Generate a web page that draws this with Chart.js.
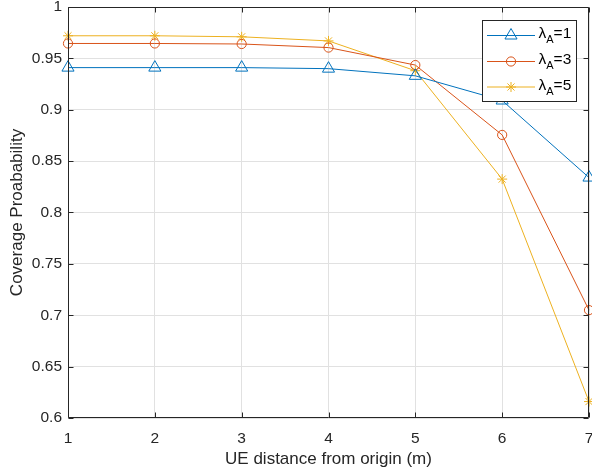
<!DOCTYPE html>
<html>
<head>
<meta charset="utf-8">
<script src="https://cdn.jsdelivr.net/npm/chart.js@4"></script>
<style>html,body{margin:0;padding:0;background:#fff}</style>
</head>
<body>
<canvas id="chart" width="592" height="472"></canvas>
<script>
const distances = [1, 2, 3, 4, 5, 6, 7];
const covLambda1 = [0.941, 0.941, 0.941, 0.940, 0.933, 0.909, 0.834];
const covLambda3 = [0.9645, 0.9645, 0.964, 0.9605, 0.9435, 0.8755, 0.705];
const covLambda5 = [0.972, 0.972, 0.971, 0.967, 0.938, 0.8325, 0.616];
const lambdas = [1, 3, 5];
const xTicks = [1, 2, 3, 4, 5, 6, 7];
const yTicks = [0.6, 0.65, 0.7, 0.75, 0.8, 0.85, 0.9, 0.95, 1];

const axisColor = '#262626';
const gridColor = '#e1e1e1';
const fontFamily = '"Liberation Sans", Arial, Helvetica, sans-serif';
const styles = [
  { color: '#0072BD', pointStyle: 'triangle', radius: 7 },
  { color: '#D95319', pointStyle: 'circle', radius: 4.6 },
  { color: '#EDB120', pointStyle: 'star', radius: 5 }
];
const series = [covLambda1, covLambda3, covLambda5];

const datasets = series.map((vals, i) => ({
  label: 'λA=' + lambdas[i],
  data: vals.map((v, j) => ({ x: distances[j], y: v })),
  borderColor: styles[i].color,
  backgroundColor: styles[i].color,
  borderWidth: 1,
  pointStyle: styles[i].pointStyle,
  pointRadius: styles[i].radius,
  pointHoverRadius: styles[i].radius,
  pointBorderColor: styles[i].color,
  pointBackgroundColor: 'transparent',
  pointBorderWidth: 1,
  tension: 0,
  clip: false
}));

// keep the plot box fixed: tick labels may hang over the edges like in MATLAB
const noPadding = () => ({ left: 0, top: 0, right: 0, bottom: 0 });

function drawMarker(ctx, style, radius, x, y, color) {
  ctx.save();
  ctx.strokeStyle = color;
  ctx.fillStyle = 'transparent';
  ctx.lineWidth = 1;
  if (Chart.helpers && Chart.helpers.drawPoint) {
    Chart.helpers.drawPoint(ctx, { pointStyle: style, radius: radius, borderWidth: 1, rotation: 0 }, x, y);
  }
  ctx.restore();
}

const matlabFrame = {
  id: 'matlabFrame',
  afterDraw(chart) {
    const ctx = chart.ctx;
    const a = chart.chartArea;
    const xs = chart.scales.x, ys = chart.scales.y;
    const L = Math.round(a.left) + 0.5, R = Math.round(a.right) - 0.5;
    const T = Math.round(a.top) + 0.5, B = Math.round(a.bottom) - 0.5;
    ctx.save();
    ctx.strokeStyle = axisColor;
    ctx.lineWidth = 1;
    ctx.beginPath();
    ctx.rect(L, T, R - L, B - T);
    // inward ticks
    xTicks.forEach(v => {
      const px = Math.round(xs.getPixelForValue(v)) + 0.5;
      ctx.moveTo(px, B); ctx.lineTo(px, B - 5);
      ctx.moveTo(px, T); ctx.lineTo(px, T + 5);
    });
    yTicks.forEach(v => {
      const py = Math.round(ys.getPixelForValue(v)) + 0.5;
      ctx.moveTo(L, py); ctx.lineTo(L + 5, py);
      ctx.moveTo(R, py); ctx.lineTo(R - 5, py);
    });
    ctx.stroke();

    // legend
    const bx = 482.5, by = 20.5, bw = 94, bh = 81;
    ctx.fillStyle = '#fff';
    ctx.fillRect(bx, by, bw, bh);
    ctx.strokeStyle = axisColor;
    ctx.strokeRect(bx, by, bw, bh);
    const rows = [35, 61, 86.5];
    lambdas.forEach((lam, i) => {
      const y = rows[i];
      ctx.strokeStyle = styles[i].color;
      ctx.beginPath();
      ctx.moveTo(487, y + 0.5); ctx.lineTo(535, y + 0.5);
      ctx.stroke();
      drawMarker(ctx, styles[i].pointStyle, styles[i].radius, 511, y + 0.5, styles[i].color);
      ctx.fillStyle = '#000';
      ctx.textBaseline = 'middle';
      ctx.textAlign = 'left';
      ctx.font = '15.5px ' + fontFamily;
      let tx = 538.5;
      ctx.fillText('λ', tx, y - 1);
      tx += ctx.measureText('λ').width;
      ctx.font = '11px ' + fontFamily;
      ctx.fillText('A', tx, y + 5);
      tx += ctx.measureText('A').width;
      ctx.font = '15.5px ' + fontFamily;
      ctx.fillText('=' + lam, tx, y - 1);
    });
    ctx.restore();
  }
};

new Chart(document.getElementById('chart').getContext('2d'), {
  type: 'line',
  data: { datasets },
  options: {
    responsive: false,
    animation: false,
    events: [],
    layout: { autoPadding: false, padding: { top: 7, right: 3, left: 0, bottom: 0 } },
    plugins: { legend: { display: false }, tooltip: { enabled: false } },
    scales: {
      x: {
        type: 'linear',
        min: 1,
        max: 7,
        afterBuildTicks: s => { s.ticks = xTicks.map(v => ({ value: v })); },
        afterFit: s => { s.height = 54; s.getPadding = noPadding; },
        grid: { color: gridColor, drawTicks: false },
        border: { display: false },
        ticks: {
          color: axisColor,
          font: { family: fontFamily, size: 15.5 },
          padding: 11,
          maxRotation: 0,
          callback: v => String(v)
        },
        title: {
          display: true,
          text: 'UE distance from origin (m)',
          color: axisColor,
          font: { family: fontFamily, size: 17 },
          padding: { top: 0, bottom: 2 }
        }
      },
      y: {
        min: 0.6,
        max: 1,
        afterBuildTicks: s => { s.ticks = yTicks.map(v => ({ value: v })); },
        afterFit: s => { s.width = 68; s.getPadding = noPadding; },
        grid: { color: gridColor, drawTicks: false },
        border: { display: false },
        ticks: {
          color: axisColor,
          font: { family: fontFamily, size: 15.5 },
          padding: 6,
          callback: v => String(+v.toFixed(2))
        },
        title: {
          display: true,
          text: 'Coverage Proabability',
          color: axisColor,
          font: { family: fontFamily, size: 17 },
          padding: { top: 7, bottom: 0 }
        }
      }
    }
  },
  plugins: [matlabFrame]
});
</script>
</body>
</html>
